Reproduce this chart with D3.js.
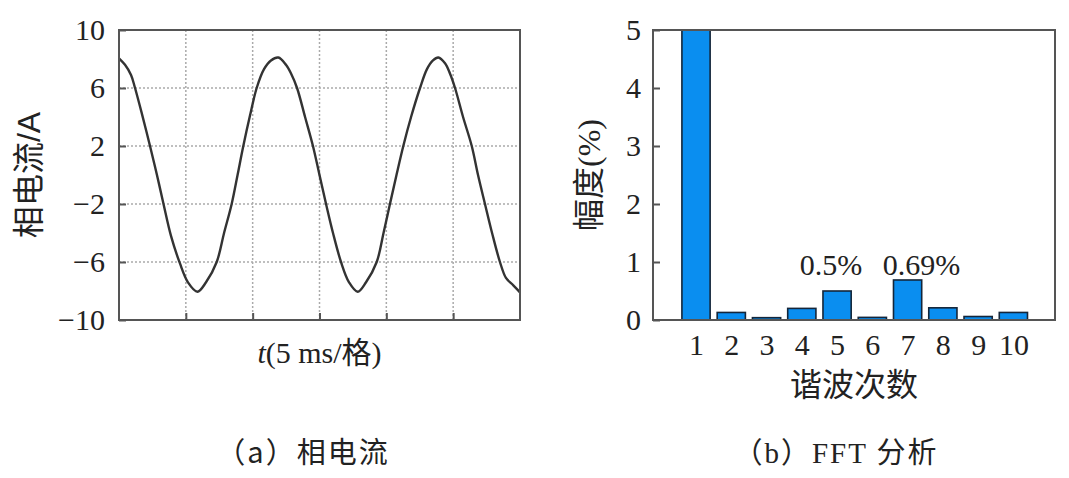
<!DOCTYPE html>
<html><head><meta charset="utf-8">
<script src="https://cdn.jsdelivr.net/npm/d3@7"></script>
<style>
html,body{margin:0;padding:0;background:#fff;}
svg{display:block;}
</style></head>
<body>
<svg id="c" width="1069" height="478"></svg>
<script>
// ---- Data: (a) phase current waveform ----
const timeMs = [0,0.45,0.9,1.2,1.72,2.32,2.84,3.33,3.89,4.56,5.16,5.87,6.51,7.31,7.86,8.43,8.87,9.3,9.8,10.3,10.85,11.37,11.92,12.49,12.87,13.32,13.92,14.51,15.0,15.49,16.01,16.61,17.21,17.86,18.48,19.28,19.79,20.27,20.76,21.27,21.85,22.52,23.04,23.49,23.89,24.39,24.76,25.14,25.74,26.39,26.86,27.38,27.91,28.5,28.95,29.38,29.7,30.0];
const currentA = [8.05,7.6,6.9,6.0,4.2,2.0,0,-2.0,-4.2,-6.1,-7.4,-8.05,-7.4,-6.0,-4.0,-2.0,0,2.0,4.1,6.0,7.3,7.9,8.1,7.6,7.0,6.0,4.0,2.0,0,-2.0,-4.0,-6.0,-7.4,-8.05,-7.4,-6.0,-4.0,-2.0,0,2.0,4.0,6.0,7.3,7.9,8.1,7.7,7.0,6.0,4.0,2.0,0,-2.0,-4.0,-6.0,-7.1,-7.5,-7.8,-8.1];
const yTicksA = [10,6,2,-2,-6,-10];
const xGridA = [5,10,15,20,25];

// ---- Data: (b) FFT harmonic spectrum ----
const harmonicOrder = [1,2,3,4,5,6,7,8,9,10];
const amplitudePct = [100,0.13,0.04,0.2,0.5,0.045,0.69,0.21,0.06,0.13];
const yTicksB = [0,1,2,3,4,5];
const annotations = [{order:5, text:"0.5%"},{order:7, text:"0.69%"}];

const svg = d3.select("#c");
const serif = "'Liberation Serif','Times New Roman',serif";
const cjk = "'Noto Sans CJK SC',sans-serif";
const frameColor = "#555";
const textColor = "#222";

// ================= Panel (a) =================
const A = {l:119, r:520, t:30, b:320};
const xA = d3.scaleLinear().domain([0,30]).range([A.l,A.r]);
const yA = d3.scaleLinear().domain([-10,10]).range([A.b,A.t]);
const gA = svg.append("g");

// grid
gA.selectAll("line.hg").data(yTicksA.filter(v=>v>-10&&v<10)).join("line")
  .attr("x1",A.l).attr("x2",A.r).attr("y1",d=>yA(d)).attr("y2",d=>yA(d))
  .attr("stroke","#aaa").attr("stroke-width",1.5).attr("stroke-dasharray","2,2");
gA.selectAll("line.vg").data(xGridA).join("line")
  .attr("x1",d=>xA(d)).attr("x2",d=>xA(d)).attr("y1",A.t).attr("y2",A.b)
  .attr("stroke","#aaa").attr("stroke-width",1.5).attr("stroke-dasharray","2,2");

// axes with inward ticks
const axL = d3.axisLeft(yA).tickValues(yTicksA).tickSizeInner(-7).tickSizeOuter(0).tickPadding(14)
  .tickFormat(d=> d<0 ? "\u2212"+Math.abs(d) : d);
const axLg = gA.append("g").attr("transform",`translate(${A.l},0)`).call(axL);
axLg.select(".domain").remove();
axLg.selectAll("line").attr("stroke",frameColor).attr("stroke-width",2);
axLg.selectAll("text").style("font-family",serif).style("font-size","30px").attr("fill",textColor);

const axB = d3.axisBottom(xA).tickValues(xGridA).tickSizeInner(-7).tickSizeOuter(0).tickFormat("");
const axBg = gA.append("g").attr("transform",`translate(0,${A.b})`).call(axB);
axBg.select(".domain").remove();
axBg.selectAll("line").attr("stroke",frameColor).attr("stroke-width",2);

// waveform
const lineA = d3.line().x((d,i)=>xA(timeMs[i])).y(d=>yA(d)).curve(d3.curveCatmullRom.alpha(0.5));
gA.append("path").datum(currentA).attr("d",lineA)
  .attr("fill","none").attr("stroke","#333").attr("stroke-width",2.4);

// frame
gA.append("rect").attr("x",A.l).attr("y",A.t).attr("width",A.r-A.l).attr("height",A.b-A.t)
  .attr("fill","none").attr("stroke",frameColor).attr("stroke-width",2);

// labels
gA.append("text").attr("transform",`translate(40,${(A.t+A.b)/2}) rotate(-90)`)
  .attr("text-anchor","middle").style("font-family","'Liberation Sans','Noto Sans CJK SC',sans-serif")
  .style("font-size","32px").attr("fill",textColor).text("相电流/A");
const xl = gA.append("text").attr("x",(A.l+A.r)/2).attr("y",363).attr("text-anchor","middle")
  .style("font-family",serif+","+cjk).style("font-size","30px").attr("fill",textColor);
xl.append("tspan").attr("font-style","italic").text("t");
xl.append("tspan").text("(5 ms/格)");

// ================= Panel (b) =================
const B = {l:653, r:1055, t:30, b:320};
const xB = d3.scaleLinear().domain([-0.22,11.18]).range([B.l,B.r]);
const yB = d3.scaleLinear().domain([0,5]).range([B.b,B.t]);
const gB = svg.append("g");
const bw = (xB(1)-xB(0))*0.8;

svg.append("defs").append("clipPath").attr("id","clipB")
  .append("rect").attr("x",B.l).attr("y",B.t).attr("width",B.r-B.l).attr("height",B.b-B.t);

gB.append("g").attr("clip-path","url(#clipB)")
  .selectAll("rect").data(harmonicOrder).join("rect")
  .attr("x",(d)=>xB(d)-bw/2).attr("width",bw)
  .attr("y",(d,i)=>yB(amplitudePct[i])).attr("height",(d,i)=>yB(0)-yB(amplitudePct[i]))
  .attr("fill","#0a8ef0").attr("stroke","#14263a").attr("stroke-width",1.6);

const axLB = d3.axisLeft(yB).tickValues(yTicksB).tickFormat(d3.format("d")).tickSizeInner(-7).tickSizeOuter(0).tickPadding(12);
const axLBg = gB.append("g").attr("transform",`translate(${B.l},0)`).call(axLB);
axLBg.select(".domain").remove();
axLBg.selectAll("line").attr("stroke",frameColor).attr("stroke-width",2);
axLBg.selectAll("text").style("font-family",serif).style("font-size","30px").attr("fill",textColor);

const axBB = d3.axisBottom(xB).tickValues(harmonicOrder).tickFormat(d3.format("d")).tickSize(0).tickPadding(14);
const axBBg = gB.append("g").attr("transform",`translate(0,${B.b})`).call(axBB);
axBBg.select(".domain").remove();
axBBg.selectAll("text").style("font-family",serif).style("font-size","30px").attr("fill",textColor);

gB.append("rect").attr("x",B.l).attr("y",B.t).attr("width",B.r-B.l).attr("height",B.b-B.t)
  .attr("fill","none").attr("stroke",frameColor).attr("stroke-width",2);

gB.selectAll("text.ann").data(annotations).join("text").attr("class","ann")
  .attr("x",(d,i)=>xB(d.order)+(i===0?-6:14)).attr("y",275).attr("text-anchor","middle")
  .style("font-family",serif).style("font-size","30px").attr("fill",textColor).text(d=>d.text);

gB.append("text").attr("transform",`translate(600,${(B.t+B.b)/2}) rotate(-90)`)
  .attr("text-anchor","middle").style("font-family","'Liberation Serif','Noto Sans CJK SC',serif")
  .style("font-size","32px").attr("fill",textColor).text("幅度(%)");
gB.append("text").attr("x",(B.l+B.r)/2).attr("y",396).attr("text-anchor","middle")
  .style("font-family",cjk).style("font-size","32px").attr("fill",textColor).text("谐波次数");

// captions
svg.append("text").attr("x",303).attr("y",463).attr("text-anchor","middle")
  .style("font-family",cjk).style("font-size","29px").attr("letter-spacing",2).attr("fill",textColor).text("（a）相电流");
svg.append("text").attr("x",836).attr("y",463).attr("text-anchor","middle")
  .style("font-family","'Liberation Serif','Noto Sans CJK SC',serif").style("font-size","29px").attr("letter-spacing",2).attr("fill",textColor).text("（b）FFT 分析");
</script>
</body></html>
